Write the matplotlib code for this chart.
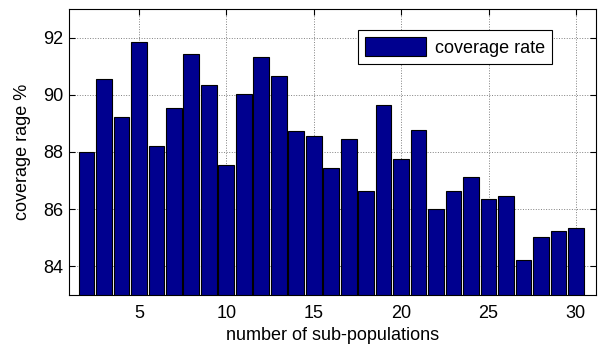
import matplotlib
matplotlib.use("Agg")
import matplotlib.pyplot as plt

plt.rcParams['font.family'] = ['Liberation Sans', 'DejaVu Sans']

sub_populations = list(range(2, 31))
coverage = [88.0, 90.55, 89.24, 91.86, 88.22, 89.55, 91.44, 90.33, 87.55, 90.02,
            91.33, 90.64, 88.75, 88.55, 87.44, 88.44, 86.65, 89.66, 87.77, 88.76,
            86.02, 86.65, 87.12, 86.34, 86.45, 84.24, 85.02, 85.24, 85.33]

fig = plt.figure(figsize=(5.98, 3.49), dpi=100)
ax = fig.add_axes([69 / 598, 1 - 295 / 349, (596 - 69) / 598, (295 - 9) / 349])

ax.bar(sub_populations, coverage, width=0.9, color='#00008f', edgecolor='black',
       linewidth=0.8, label='coverage rate', zorder=3)

ax.set_xlim(1, 31.15)
ax.set_ylim(83, 93)
ax.set_xticks([5, 10, 15, 20, 25, 30])
ax.set_yticks([84, 86, 88, 90, 92])
ax.grid(True, linestyle=':', color='#808080', linewidth=0.7, zorder=0)
ax.tick_params(direction='in', length=4, top=True, right=True, labelsize=13, width=0.8)
ax.tick_params(axis='x', pad=7)
ax.tick_params(axis='y', pad=4)
for s in ax.spines.values():
    s.set_linewidth(0.8)
    s.set_zorder(4)

ax.set_xlabel('number of sub-populations', fontsize=13, labelpad=4)
ax.set_ylabel('coverage rage %', fontsize=13, labelpad=9)

leg = ax.legend(loc='upper left', bbox_to_anchor=(0.548, 0.927), borderaxespad=0,
                fontsize=13, handlelength=3.4, handleheight=1.25, borderpad=0.4,
                handletextpad=0.45, fancybox=False, framealpha=1, edgecolor='black')
leg.get_frame().set_linewidth(0.8)

fig.savefig('out.png', dpi=100)
